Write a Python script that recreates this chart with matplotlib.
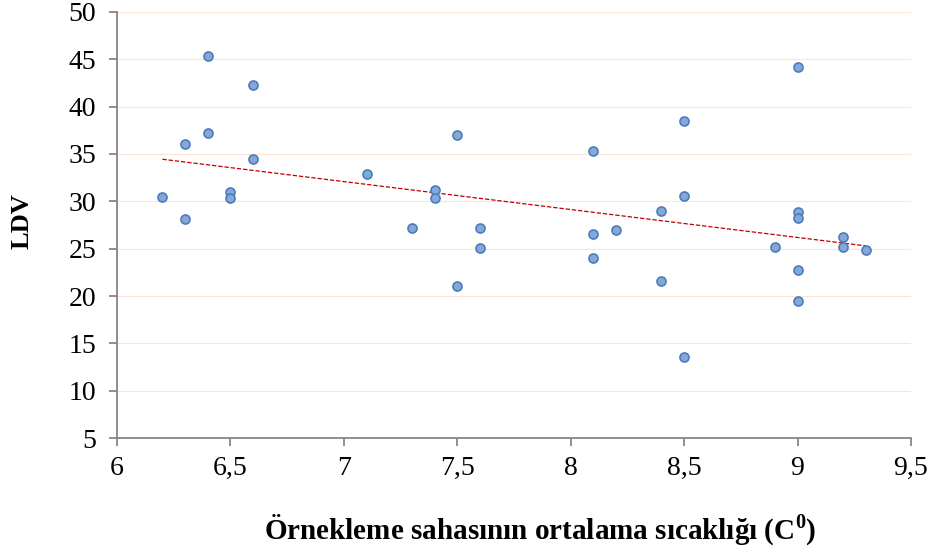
import numpy as np
import matplotlib
matplotlib.use('Agg')
import matplotlib.pyplot as plt

# Data
temp = [6.2, 6.3, 6.3, 6.4, 6.4, 6.5, 6.5, 6.6, 6.6, 7.1, 7.3, 7.4, 7.4,
        7.5, 7.5, 7.6, 7.6, 8.1, 8.1, 8.1, 8.2, 8.4, 8.4, 8.5, 8.5, 8.5,
        8.9, 9.0, 9.0, 9.0, 9.0, 9.0, 9.2, 9.2, 9.3]
ldv = [30.5, 36.1, 28.1, 45.4, 37.2, 31.0, 30.3, 42.3, 34.5, 32.9, 27.2, 31.2, 30.4,
       37.0, 21.1, 27.2, 25.1, 35.3, 26.5, 24.0, 26.95, 29.0, 21.6, 38.5, 30.6, 13.6,
       25.2, 44.2, 28.85, 28.25, 22.75, 19.5, 26.2, 25.2, 24.9]

x_ticks = [6, 6.5, 7, 7.5, 8, 8.5, 9, 9.5]
x_tick_labels = ['6', '6,5', '7', '7,5', '8', '8,5', '9', '9,5']
y_ticks = [5, 10, 15, 20, 25, 30, 35, 40, 45, 50]

plt.rcParams['font.family'] = ['Liberation Serif', 'DejaVu Serif']
plt.rcParams['mathtext.fontset'] = 'custom'
plt.rcParams['mathtext.rm'] = 'Liberation Serif'
plt.rcParams['mathtext.bf'] = 'Liberation Serif:bold'

fig = plt.figure(figsize=(9.34, 5.55), dpi=100)
ax = fig.add_axes([0.1253, 0.2108, 0.85, 0.7676])

# gridlines
for y in y_ticks[1:]:
    ax.axhline(y, color='#FCE4D6', lw=0.8, zorder=0)

# linear trend line
coef = np.polyfit(temp, ldv, 1)
xs = np.array([min(temp), max(temp)])
ax.plot(xs, np.polyval(coef, xs), color='#C00000', lw=0.9,
        linestyle=(0, (3.5, 1.5)), zorder=2)

# points
ax.plot(temp, ldv, 'o', ms=6.5, mfc='#86A8D8', mec='#4A7CBC', mew=1.2,
        linestyle='none', zorder=3)

ax.set_xlim(6, 9.5)
ax.set_ylim(5, 50)
ax.set_xticks(x_ticks)
ax.set_xticklabels(x_tick_labels)
ax.set_yticks(y_ticks)

for s in ['top', 'right']:
    ax.spines[s].set_visible(False)
for s in ['left', 'bottom']:
    ax.spines[s].set_color('#868686')
    ax.spines[s].set_linewidth(1.3)
ax.tick_params(axis='both', colors='#868686', length=6, width=1.3,
               labelsize=20, labelcolor='black')
ax.tick_params(axis='x', pad=7)
ax.tick_params(axis='y', pad=9)

ax.set_ylabel('LDV', fontsize=19, fontweight='bold')
ax.yaxis.set_label_coords(-0.105, 0.51)
ax.set_xlabel('Örnekleme sahasının ortalama sıcaklığı (C$^{\\mathbf{0}}$)',
              fontsize=21, fontweight='bold')
ax.xaxis.set_label_coords(0.533, -0.175)

fig.savefig('out.png', dpi=100)
